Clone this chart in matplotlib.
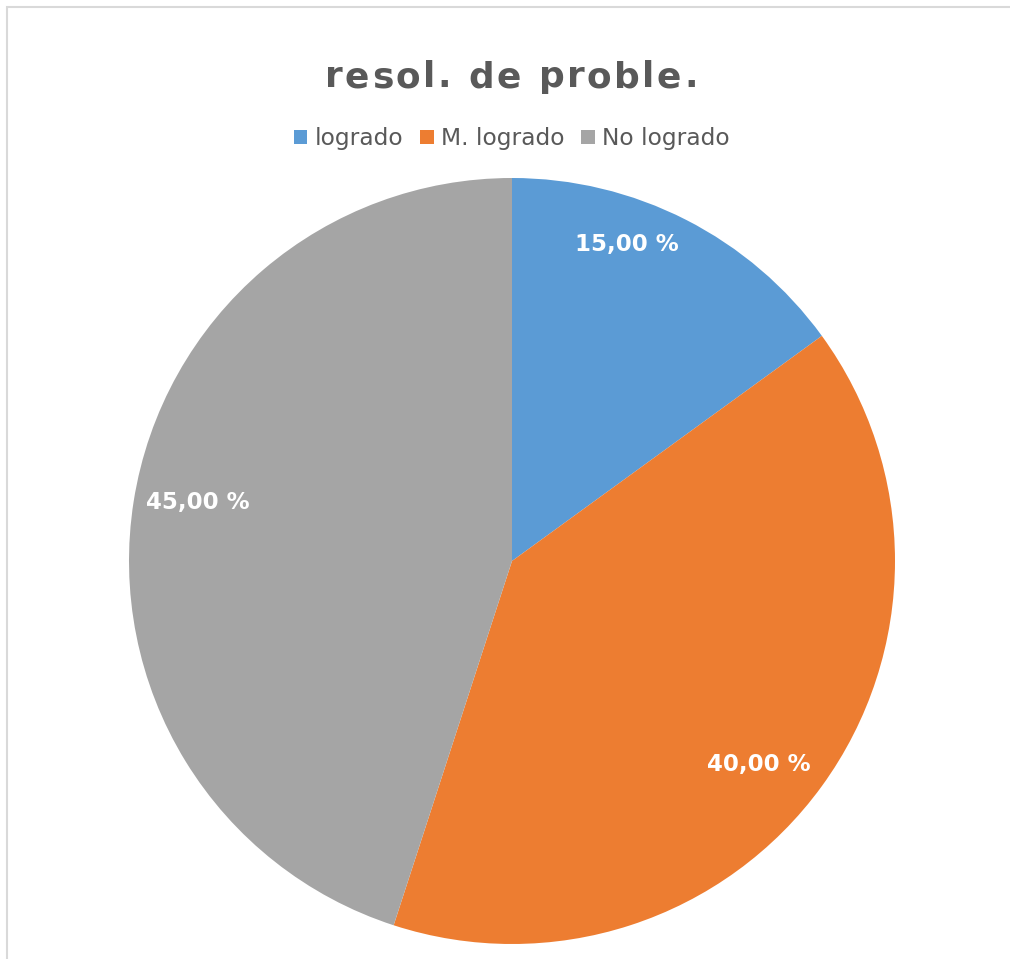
import numpy as np
import matplotlib
matplotlib.use("Agg")
import matplotlib.pyplot as plt
from matplotlib.patches import Patch, Rectangle

# Data
categories = ["logrado", "M. logrado", "No logrado"]
values = [15.0, 40.0, 45.0]
title_text = "resol. de proble."

colors = ["#5B9BD5", "#ED7D31", "#A5A5A5"]
text_gray = "#595959"

W, H, DPI = 1010, 959, 100
fig = plt.figure(figsize=(W / DPI, H / DPI), dpi=DPI)
fig.patch.set_facecolor("white")

# Outer chart-area frame (runs off the right and bottom edges)
fig.patches.append(Rectangle((6.5 / W, -0.02), 1.05, 1 - 6.5 / H + 0.02,
                             transform=fig.transFigure, fill=False,
                             edgecolor="#D9D9D9", linewidth=1.5))

# Pie axes placed by pixel geometry
cx, cy, r = 512, 561, 383
ax = fig.add_axes([(cx - r) / W, (H - cy - r) / H, 2 * r / W, 2 * r / H])
wedges, _ = ax.pie(values, colors=colors, startangle=90, counterclock=False,
                   radius=1.0, wedgeprops=dict(linewidth=0))
ax.set_xlim(-1, 1)
ax.set_ylim(-1, 1)
ax.set_aspect("equal")
ax.axis("off")

# Percentage labels placed along each wedge's bisector
label_dist = [0.88, 0.836, 0.834]
label_nudge = [7.0, -3.5, -1.5]  # degrees
for w, v, d, nd in zip(wedges, values, label_dist, label_nudge):
    ang = np.deg2rad((w.theta1 + w.theta2) / 2 + nd)
    ax.text(d * np.cos(ang), d * np.sin(ang),
            f"{v:.2f}".replace(".", ",") + " %",
            ha="center", va="center", color="white",
            fontsize=16.5, fontweight="bold", family="DejaVu Sans")

# Title with letter spacing, drawn glyph by glyph
fig.canvas.draw()
renderer = fig.canvas.get_renderer()
fs_title = 25.8
spacing_px = 2.5
widths = []
for ch in title_text:
    t = fig.text(0, 0, ch if ch != " " else "a a", fontsize=fs_title,
                 fontweight="bold", family="DejaVu Sans")
    bb = t.get_window_extent(renderer)
    if ch == " ":
        t2 = fig.text(0, 0, "aa", fontsize=fs_title, fontweight="bold",
                      family="DejaVu Sans")
        w = bb.width - t2.get_window_extent(renderer).width
        t2.remove()
    else:
        w = bb.width
    t.remove()
    widths.append(w)
total = sum(widths) + spacing_px * (len(title_text) - 1)
x = 511 - total / 2
baseline_y = H - 87
for ch, w in zip(title_text, widths):
    if ch != " ":
        fig.text(x / W, baseline_y / H, ch, fontsize=fs_title,
                 fontweight="bold", family="DejaVu Sans", color=text_gray,
                 ha="left", va="baseline")
    x += w + spacing_px

# Legend
handles = [Patch(facecolor=c, edgecolor="none") for c in colors]
fig.legend(handles, categories, loc="center", bbox_to_anchor=(512 / W, 1 - 138.5 / H),
           ncol=3, frameon=False, fontsize=16.8, handlelength=0.58,
           handleheight=0.58, handletextpad=0.33, columnspacing=0.7,
           labelcolor=text_gray, borderpad=0, borderaxespad=0)

fig.savefig("out.png", dpi=DPI, facecolor="white")
